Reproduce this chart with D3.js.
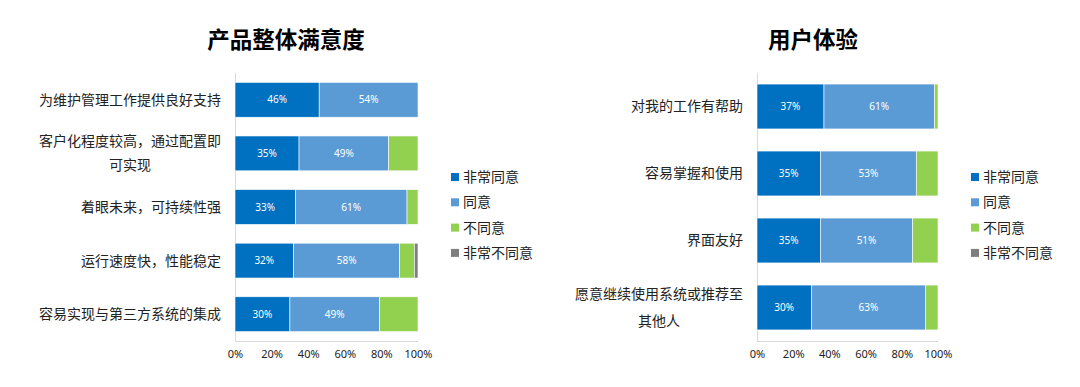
<!DOCTYPE html>
<html><head><meta charset="utf-8">
<script src="https://cdn.jsdelivr.net/npm/d3@7"></script>
<style>
html,body{margin:0;padding:0;background:#fff;}
svg{display:block;font-family:"Noto Sans CJK SC","Noto Sans",sans-serif;}
</style></head>
<body><svg id="c" width="1080" height="387"></svg>
<script>
const seriesNames = ["非常同意","同意","不同意","非常不同意"];
const colors = ["#0070C0","#5B9BD5","#92D050","#7F7F7F"];
const ticks = [0,20,40,60,80,100];

const leftTitle = "产品整体满意度";
const leftCats = [["为维护管理工作提供良好支持"],["客户化程度较高，通过配置即","可实现"],["着眼未来，可持续性强"],["运行速度快，性能稳定"],["容易实现与第三方系统的集成"]];
const leftStrong = [46,35,33,32,30];
const leftAgree = [54,49,61,58,49];
const leftDis = [0,16,6,8,21];
const leftStrongDis = [0,0,0,2,0];

const rightTitle = "用户体验";
const rightCats = [["对我的工作有帮助"],["容易掌握和使用"],["界面友好"],["愿意继续使用系统或推荐至","其他人"]];
const rightStrong = [37,35,35,30];
const rightAgree = [61,53,51,63];
const rightDis = [2,12,14,7];
const rightStrongDis = [0,0,0,0];

const svg = d3.select("#c");

function drawChart(cfg){
  const {title,titleX,cats,vals,x0,x1,y0,y1,pad,labelRight,lineH,legX} = cfg;
  const g = svg.append("g");
  const x = d3.scaleLinear().domain([0,100]).range([x0,x1]);
  const y = d3.scaleBand().domain(d3.range(cats.length)).range([y0,y1]).paddingInner(pad).paddingOuter(pad/2);
  // title
  g.append("text").attr("x",titleX).attr("y",48).attr("text-anchor","middle")
    .attr("font-size",22.5).attr("font-weight","bold").attr("fill","#000").text(title);
  // axes lines
  g.append("line").attr("x1",x0+0.5).attr("x2",x0+0.5).attr("y1",y0).attr("y2",y1).attr("stroke","#d9d9d9");
  g.append("line").attr("x1",x0).attr("x2",x1).attr("y1",y1+0.5).attr("y2",y1+0.5).attr("stroke","#d9d9d9");
  // x ticks
  const ax = d3.axisBottom(x).tickValues(ticks).tickFormat(d=>d+"%").tickSize(0).tickPadding(9);
  const axg = g.append("g").attr("transform",`translate(0,${y1})`).call(ax);
  axg.select(".domain").remove();
  axg.selectAll("text").attr("font-size",11).attr("fill","#222").attr("font-family","'Noto Sans',sans-serif");
  // bars
  cats.forEach((c,i)=>{
    let acc=0;
    vals.forEach((s,j)=>{
      const v=s[i];
      if(v>0){
        g.append("rect").attr("x",x(acc)).attr("y",y(i)).attr("width",x(acc+v)-x(acc)).attr("height",y.bandwidth())
          .attr("fill",colors[j]).attr("stroke","#fff").attr("stroke-width",0.6);
        if(j<2){
          g.append("text").attr("x",(x(acc)+x(acc+v))/2).attr("y",y(i)+y.bandwidth()/2).attr("dy","0.35em")
            .attr("text-anchor","middle").attr("font-size",10).attr("fill","#fff")
            .attr("font-family","'Noto Sans',sans-serif").text(v+"%");
        }
      }
      acc+=v;
    });
    // category label
    const cy = y(i)+y.bandwidth()/2;
    const n = c.length;
    const w = d3.max(c,s=>s.length)*14;
    const cx = labelRight - w/2;
    c.forEach((line,k)=>{
      g.append("text").attr("x",n>1?cx:labelRight).attr("y",cy+(k-(n-1)/2)*lineH).attr("dy","0.35em")
        .attr("text-anchor",n>1?"middle":"end").attr("font-size",14).attr("fill","#222").text(line);
    });
  });
  // legend
  seriesNames.forEach((s,j)=>{
    const ly = 177+j*25.3;
    g.append("rect").attr("x",legX).attr("y",ly-4).attr("width",8).attr("height",8).attr("fill",colors[j]);
    g.append("text").attr("x",legX+12).attr("y",ly).attr("dy","0.35em").attr("font-size",14).attr("fill","#222").text(s);
  });
}

drawChart({title:leftTitle,titleX:286,cats:leftCats,vals:[leftStrong,leftAgree,leftDis,leftStrongDis],
  x0:235,x1:418,y0:73,y1:341,pad:0.35,labelRight:221,lineH:24,legX:451});
drawChart({title:rightTitle,titleX:813,cats:rightCats,vals:[rightStrong,rightAgree,rightDis,rightStrongDis],
  x0:757,x1:938,y0:73,y1:341,pad:0.33,labelRight:743,lineH:27,legX:971});
</script></body></html>
